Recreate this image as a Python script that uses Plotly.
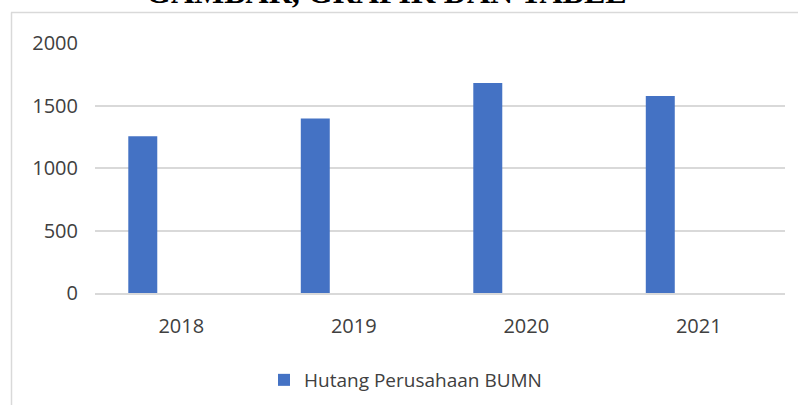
import plotly.graph_objects as go

years = ["2018", "2019", "2020", "2021"]
hutang = [1255, 1396, 1681, 1577]
series_name = "Hutang Perusahaan BUMN"
y_ticks = [0, 500, 1000, 1500, 2000]
title_text = "GAMBAR, GRAFIK DAN TABEL"

W, H = 798, 405
L, R, T, B = 95, 13, 43, 112
pw, ph = W - L - R, H - T - B

def px_to_paper_x(px):
    return (px - L) / pw

def px_to_paper_y(py):
    return (H - B - py) / ph

text_color = "#404040"
grid_color = "#D9D9D9"
font_family = "Open Sans, Noto Sans, sans-serif"

fig = go.Figure()
fig.add_trace(go.Bar(
    x=years, y=hutang, name=series_name,
    marker=dict(color="#4472C4", line=dict(width=0)),
    width=0.168, offset=-0.307,
    showlegend=True,
))

fig.update_layout(
    width=W, height=H,
    margin=dict(l=L, r=R, t=T, b=B, pad=0, autoexpand=False),
    paper_bgcolor="white", plot_bgcolor="white",
    font=dict(family=font_family, color=text_color, size=20),
    showlegend=True,
    legend=dict(
        orientation="h", x=px_to_paper_x(264), xanchor="left",
        yref="container", y=(H - 380) / H, yanchor="middle",
        font=dict(size=19, color=text_color, family=font_family),
        bgcolor="rgba(0,0,0,0)",
    ),
    xaxis=dict(
        type="category", showgrid=False, showline=True,
        linecolor=grid_color, linewidth=2, ticks="", zeroline=False,
        tickfont=dict(size=20, color=text_color),
        ticklabelstandoff=14,
    ),
    yaxis=dict(
        range=[0, 2000], tickvals=y_ticks, showgrid=True,
        gridcolor=grid_color, gridwidth=2, zeroline=False, showline=False,
        ticks="", tickfont=dict(size=20, color=text_color),
        ticklabelstandoff=16,
    ),
)

# chart frame (light grey border at top and left)
fig.add_shape(type="line", xref="paper", yref="paper",
              x0=px_to_paper_x(11), x1=px_to_paper_x(810),
              y0=px_to_paper_y(12.5), y1=px_to_paper_y(12.5),
              line=dict(color=grid_color, width=1.5))
fig.add_shape(type="line", xref="paper", yref="paper",
              x0=px_to_paper_x(11.5), x1=px_to_paper_x(11.5),
              y0=px_to_paper_y(12.5), y1=px_to_paper_y(420),
              line=dict(color=grid_color, width=1.5))

# clipped document heading above the chart
fig.add_annotation(
    text="<b>" + title_text + "</b>", xref="paper", yref="paper",
    x=px_to_paper_x(386.5), y=px_to_paper_y(12), xanchor="center", yanchor="bottom",
    showarrow=False,
    font=dict(family="Liberation Serif, Times New Roman, serif", size=32, color="black"),
)

fig.write_html("out.html", config={"displayModeBar": False},
               post_script="document.body.style.margin='0';")
